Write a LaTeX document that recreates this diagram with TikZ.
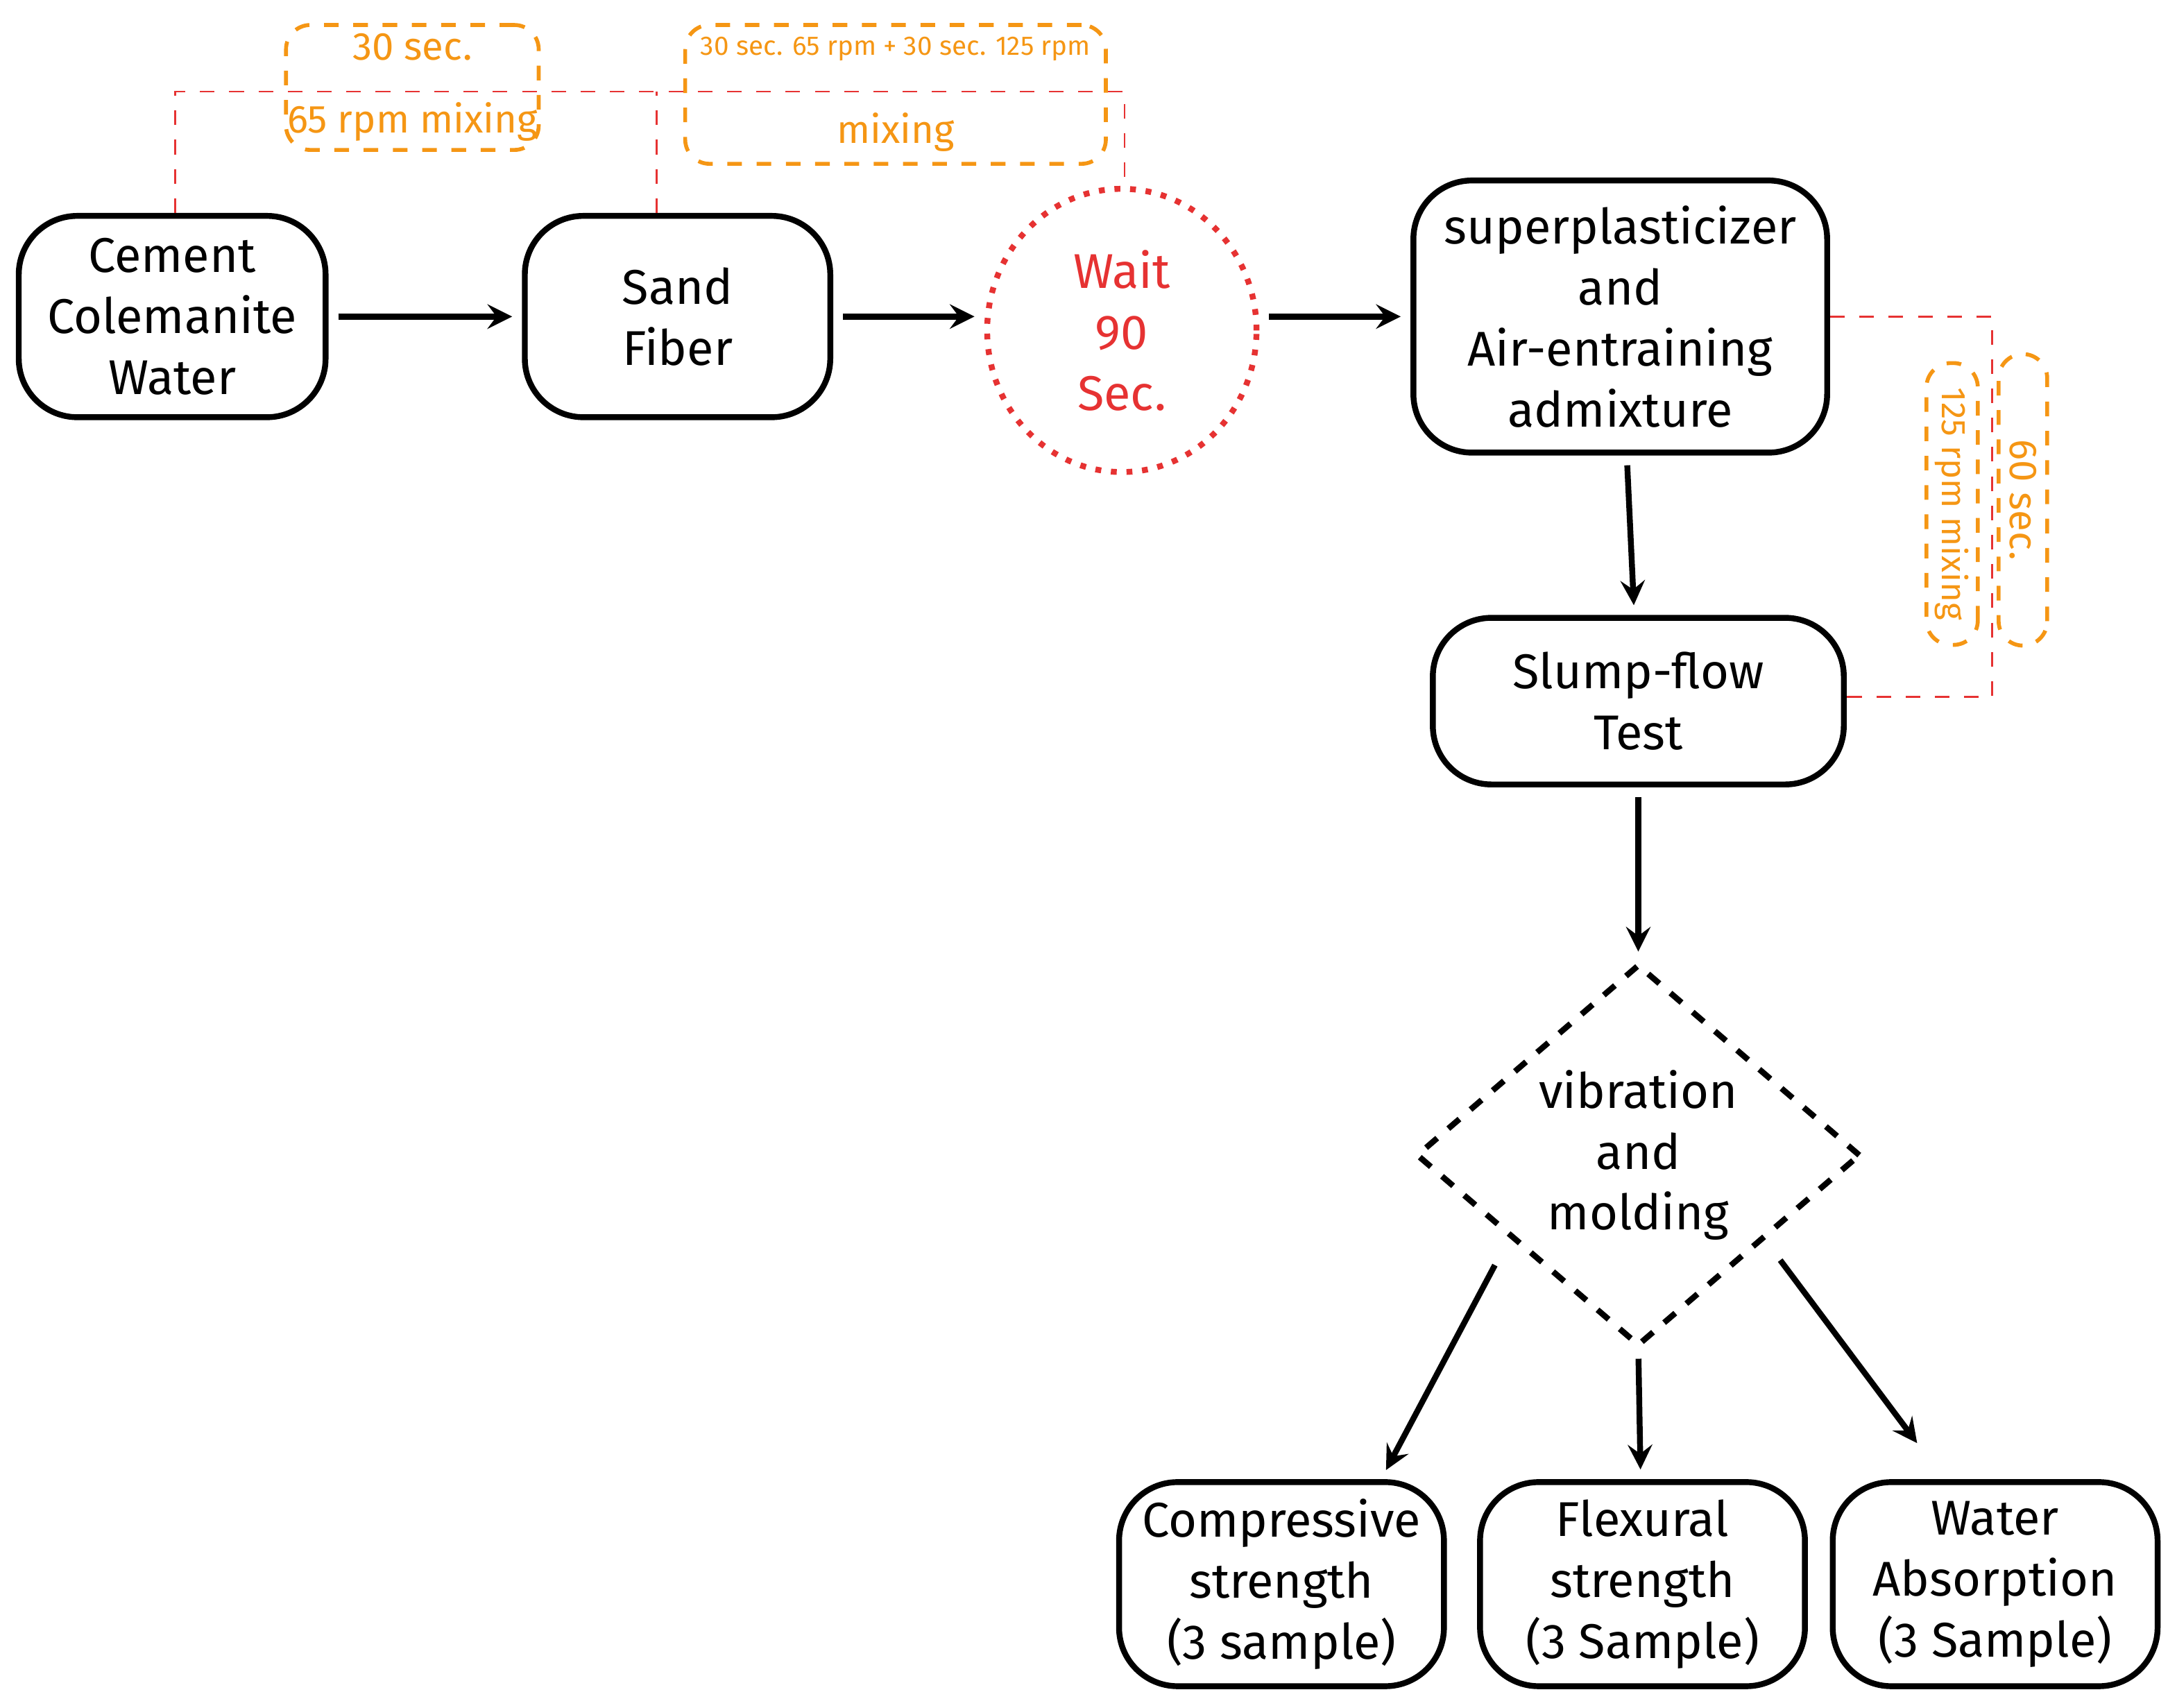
\documentclass[tikz,border=0pt]{standalone}
\usepackage{fontspec}
\setmainfont{Fira Sans}
\usetikzlibrary{arrows, shapes.geometric}
\definecolor{mixorange}{RGB}{245,150,20}
\definecolor{waitred}{RGB}{230,50,50}
\begin{document}
\begin{tikzpicture}[
            > = stealth, % arrow head style
            semithick, % line style
            font = \fontsize{10}{12.5}\selectfont
        ]

        \tikzstyle{stage}=[
            draw = black,
            very thick,
            rounded corners = 12pt,
            align = center,
            inner sep = 0pt
        ]
        \tikzstyle{flowarrow}=[->, very thick, shorten > = 2pt, shorten < = 2pt]
        \tikzstyle{mixlabel}=[draw = mixorange, dashed, thick, rounded corners = 5pt,
            text = mixorange, align = center, inner sep = 0pt]
        \tikzstyle{redlink}=[draw = waitred, dashed, thin]

        \useasboundingbox (0,0) rectangle (15.68,-12.3);

        \node[stage, minimum width=2.21cm, minimum height=1.45cm] (cem) at (1.24,-2.28) {Cement\\Colemanite\\Water};
        \node[stage, minimum width=2.2cm, minimum height=1.45cm] (sand) at (4.88,-2.28) {Sand\\Fiber};
        \node[ellipse, draw=waitred, dotted, very thick, text=waitred, align=center,
            minimum width=1.94cm, minimum height=2.04cm, inner sep=0pt] (wait) at (8.08,-2.38) {Wait\\90\\Sec.};
        \node[stage, minimum width=2.98cm, minimum height=1.96cm] (sp) at (11.67,-2.28) {superplasticizer\\and\\Air-entraining\\admixture};
        \node[stage, minimum width=2.96cm, minimum height=1.2cm] (slump) at (11.8,-5.05) {Slump-flow\\Test};
        \node[diamond, draw, dashed, very thick, align=center, aspect=1.16,
            minimum width=3.2cm, minimum height=2.75cm, inner sep=0pt] (vib) at (11.8,-8.32) {vibration\\and\\molding};
        \node[stage, minimum width=2.34cm, minimum height=1.47cm] (comp) at (9.23,-11.41) {Compressive\\strength\\(3 sample)};
        \node[stage, minimum width=2.34cm, minimum height=1.47cm] (flex) at (11.83,-11.41) {Flexural\\strength\\(3 Sample)};
        \node[stage, minimum width=2.34cm, minimum height=1.47cm] (wabs) at (14.37,-11.41) {Water\\Absorption\\(3 Sample)};

        % mixing times
        \node[mixlabel, minimum width=1.82cm, minimum height=0.9cm, font=\fontsize{8}{13}\selectfont] (t1) at (2.97,-0.63) {30 sec.\\[2pt]65 rpm mixing};
        \node[mixlabel, minimum width=3.03cm, minimum height=1.0cm, font=\fontsize{5.5}{18}\selectfont] (t2) at (6.45,-0.68) {30 sec. 65 rpm + 30 sec. 125 rpm\\{\fontsize{8}{8}\selectfont mixing}};
        \node[mixlabel, rotate=-90, minimum width=2.1cm, minimum height=0.35cm, font=\fontsize{8}{9}\selectfont] (t3) at (14.57,-3.6) {60 sec.};
        \node[mixlabel, rotate=-90, minimum width=2.03cm, minimum height=0.37cm, font=\fontsize{7}{8}\selectfont] (t4) at (14.06,-3.63) {125 rpm mixing};

        \coordinate (c1) at (1.26,-0.66);
        \coordinate (c2) at (4.73,-0.66);
        \coordinate (c3) at (8.1,-0.66);
        \coordinate (c4) at (14.35,-2.28);
        \coordinate (c5) at (14.35,-5.02);
        \coordinate (d1) at (10.8,-9.05);
        \coordinate (d2) at (12.78,-9.02);
        \coordinate (e1) at (9.95,-10.65);
        \coordinate (e3) at (13.85,-10.45);

        \draw[redlink] (cem.north -| c1) -- (c1) -- (c3) -- (wait.north -| c3);
        \draw[redlink] (sand.north -| c2) -- (c2);
        \draw[redlink] (sp.east) -- (c4) -- (c5) -- (slump.east |- c5);

        \draw[flowarrow] (cem) -- (sand);
        \draw[flowarrow] (sand.east) -- (sand.east -| wait.west);
        \draw[flowarrow] (wait.east |- sp.west) -- (sp.west);
        \draw[flowarrow] (sp) -- (slump);
        \draw[flowarrow] (slump) -- (vib);
        \draw[flowarrow] (d1) -- (e1);
        \draw[flowarrow] (vib.south) -- (flex);
        \draw[flowarrow] (d2) -- (e3);
    \end{tikzpicture}
\end{document}
